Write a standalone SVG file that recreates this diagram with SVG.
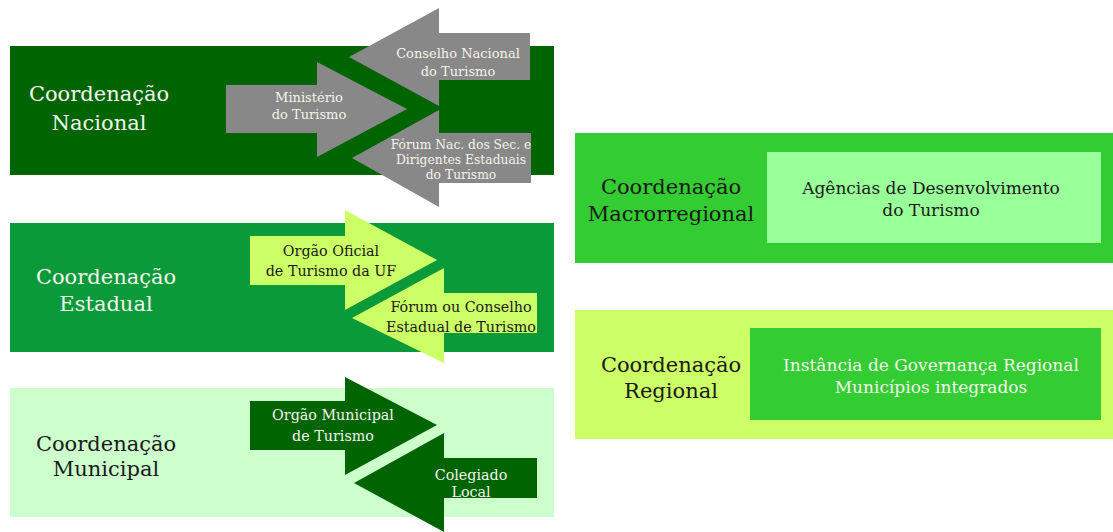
<svg xmlns="http://www.w3.org/2000/svg" width="1113" height="532" viewBox="0 0 1113 532" font-family="'DejaVu Serif', serif">
<style>
text{font-family:'DejaVu Serif',serif;text-anchor:middle}
.big{font-size:21px}
.mid{font-size:17px}
.s12{font-size:12.3px}
.s13{font-size:13px}
.s14{font-size:14.3px}
.w{fill:#f4f4ec}
.k{fill:#1a1a1a}
.gray{fill:#888888}
.lime{fill:#ccff66}
.dk{fill:#006400}
</style>
<rect width="1113" height="532" fill="#ffffff"/>
<g id="nacional">
<rect x="10" y="46" width="544" height="129" fill="#006400"/>
<text class="big w" x="99" y="101">Coordenação</text>
<text class="big w" x="99" y="130">Nacional</text>
</g>
<g id="conselho-nacional">
<polygon class="gray" points="349,57 439,8 439,33 530,33 530,80 439,80 439,106"/>
<text class="s13 w" x="458" y="58">Conselho Nacional</text>
<text class="s13 w" x="458" y="76">do Turismo</text>
</g>
<g id="ministerio">
<polygon class="gray" points="226,85 317,85 317,62 407,109 317,157 317,133 226,133"/>
<text class="s13 w" x="309" y="102">Ministério</text>
<text class="s13 w" x="309" y="119">do Turismo</text>
</g>
<g id="forum-nacional">
<polygon class="gray" points="352,158 439,110 439,133 531,133 531,183 439,183 439,207"/>
<text class="s12 w" x="461" y="149">Fórum Nac. dos Sec. e</text>
<text class="s12 w" x="461" y="164">Dirigentes Estaduais</text>
<text class="s12 w" x="461" y="179">do Turismo</text>
</g>
<g id="estadual">
<rect x="10" y="223" width="544" height="129" fill="#0a9a3a"/>
<text class="big w" x="106" y="284">Coordenação</text>
<text class="big w" x="106" y="311">Estadual</text>
</g>
<g id="orgao-oficial">
<polygon class="lime" points="250,236 345,236 345,210 437,260 345,310 345,285 250,285"/>
<text class="s14 k" x="331" y="256">Orgão Oficial</text>
<text class="s14 k" x="331" y="276">de Turismo da UF</text>
</g>
<g id="forum-estadual">
<polygon class="lime" points="352,318 444,268 444,293 537,293 537,333 444,333 444,363"/>
<text class="s14 k" x="461" y="312">Fórum ou Conselho</text>
<text class="s14 k" x="461" y="332">Estadual de Turismo</text>
</g>
<g id="municipal">
<rect x="10" y="388" width="544" height="129" fill="#ccffcc"/>
<text class="big k" x="106" y="451">Coordenação</text>
<text class="big k" x="106" y="476">Municipal</text>
</g>
<g id="orgao-municipal">
<polygon class="dk" points="250,401 345,401 345,377 437,425 345,475 345,450 250,450"/>
<text class="s14 w" x="333" y="420">Orgão Municipal</text>
<text class="s14 w" x="333" y="441">de Turismo</text>
</g>
<g id="colegiado">
<polygon class="dk" points="354,483 444,433 444,458 537,458 537,498 444,498 444,532"/>
<text class="s14 w" x="471" y="480">Colegiado</text>
<text class="s14 w" x="471" y="497">Local</text>
</g>
<g id="macrorregional">
<rect x="575" y="133" width="538" height="130" fill="#33cc33"/>
<text class="big k" x="671" y="194">Coordenação</text>
<text class="big k" x="671" y="221">Macrorregional</text>
</g>
<g id="agencias">
<rect x="767" y="152" width="334" height="91" fill="#99ff99"/>
<text class="mid k" x="931" y="194">Agências de Desenvolvimento</text>
<text class="mid k" x="931" y="216">do Turismo</text>
</g>
<g id="regional">
<rect x="575" y="310" width="538" height="129" fill="#ccff66"/>
<text class="big k" x="671" y="372">Coordenação</text>
<text class="big k" x="671" y="398">Regional</text>
</g>
<g id="instancia">
<rect x="750" y="328" width="351" height="92" fill="#33cc33"/>
<text class="mid w" x="931" y="371">Instância de Governança Regional</text>
<text class="mid w" x="931" y="393">Municípios integrados</text>
</g>
<g id="connectors"/>
</svg>
